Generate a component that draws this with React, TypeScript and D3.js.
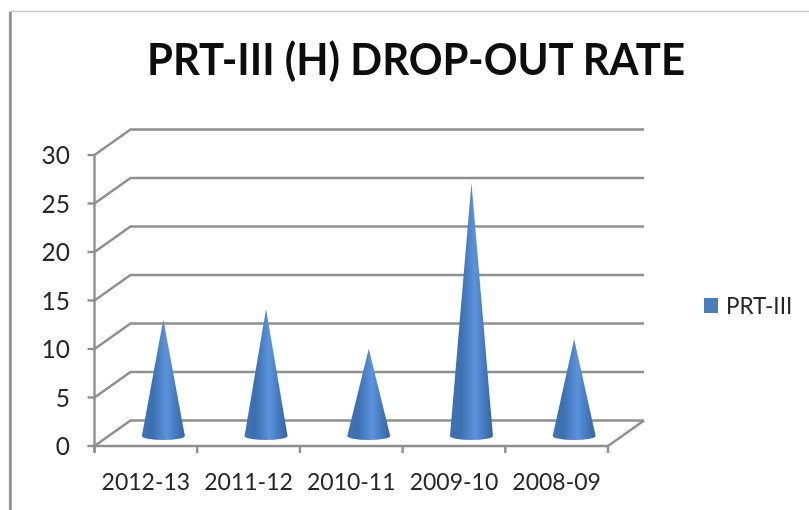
import React from "react";
import * as d3 from "d3";

const categories = ["2012-13", "2011-12", "2010-11", "2009-10", "2008-09"];
const values = [12, 13.1, 9, 26.1, 10];
const yTicks = [0, 5, 10, 15, 20, 25, 30];
const seriesName = "PRT-III";
const titleText = "PRT-III (H) DROP-OUT RATE";

const W = 809, H = 510;
const frontLeft = 94.5, frontRight = 608, frontBottom = 446, frontTop = 155;
const depthX = 36, depthY = 25.5;
const GRID = "#8f8f8f";
const TEXT = "#262626";
const FONT = "Lato, 'Open Sans', sans-serif";

export default function App() {
  const x = d3.scaleBand<string>().domain(categories).range([frontLeft, frontRight]);
  const y = d3.scaleLinear().domain([0, 30]).range([frontBottom, frontTop]);
  const baseShiftX = 17.5, baseShiftY = -10;
  const rx = 21.5, ry = 4;
  const ticksX = [...categories.map((c) => x(c) as number), frontRight];
  const gridPath = d3.path();
  yTicks.forEach((t) => {
    const py = y(t);
    gridPath.moveTo(frontLeft, py);
    gridPath.lineTo(frontLeft + depthX, py - depthY);
    gridPath.lineTo(frontRight + depthX, py - depthY);
  });
  return (
    <svg width={W} height={H} style={{ position: "absolute", left: 0, top: 0, background: "#fff" }}>
      <defs>
        <filter id="soft" x="-5%" y="-5%" width="110%" height="110%">
          <feGaussianBlur stdDeviation="0.5" />
        </filter>
        <linearGradient id="cone" x1="0" x2="1" y1="0" y2="0">
          <stop offset="0" stopColor="#3f74b8" />
          <stop offset="0.25" stopColor="#3c6fb0" />
          <stop offset="0.58" stopColor="#5b93dc" />
          <stop offset="0.8" stopColor="#4379bf" />
          <stop offset="1" stopColor="#34649f" />
        </linearGradient>
      </defs>
      <g filter="url(#soft)">
        <path d="M9.5 510V11.5H809" fill="none" stroke="#c9c9c9" strokeWidth={1.5} />
        <line x1={10.5} x2={10.5} y1={12} y2={510} stroke="#8a8a8a" strokeWidth={2.5} />
        <path d={gridPath.toString()} fill="none" stroke={GRID} strokeWidth={2.4} />
        <line x1={frontLeft} x2={frontLeft} y1={frontTop} y2={frontBottom + 7} stroke={GRID} strokeWidth={2.4} />
        <line x1={frontLeft} x2={frontRight} y1={frontBottom} y2={frontBottom} stroke={GRID} strokeWidth={2.4} />
        <line x1={frontRight} x2={frontRight + depthX} y1={frontBottom} y2={frontBottom - depthY} stroke={GRID} strokeWidth={2.4} />
        {yTicks.map((t) => (
          <line key={t} x1={frontLeft - 7} x2={frontLeft} y1={y(t)} y2={y(t)} stroke={GRID} strokeWidth={2.4} />
        ))}
        {ticksX.map((t) => (
          <line key={t} x1={t} x2={t} y1={frontBottom} y2={frontBottom + 7} stroke={GRID} strokeWidth={2.4} />
        ))}
        {categories.map((c, i) => {
          const cx = (x(c) as number) + x.bandwidth() / 2 + baseShiftX;
          const by = frontBottom + baseShiftY;
          const tip = y(values[i]) + baseShiftY;
          return (
            <path
              key={c}
              d={`M${cx} ${tip}L${cx + rx} ${by}A${rx} ${ry} 0 0 1 ${cx - rx} ${by}Z`}
              fill="url(#cone)"
            />
          );
        })}
        <text x={416} y={75} textAnchor="middle" fontFamily={FONT} fontWeight={700} fontSize={43} fill="#0a0a0a" textLength={538} lengthAdjust="spacingAndGlyphs">
          {titleText}
        </text>
        {yTicks.map((t) => (
          <text key={t} x={70} y={y(t) + 9} textAnchor="end" fontFamily={FONT} fontSize={24.5} fill={TEXT}>
            {t}
          </text>
        ))}
        {categories.map((c) => (
          <text key={c} x={(x(c) as number) + x.bandwidth() / 2} y={490} textAnchor="middle" fontFamily={FONT} fontSize={23} fill={TEXT}>
            {c}
          </text>
        ))}
        <rect x={704} y={298} width={14} height={15} fill="#4a7ebb" />
        <text x={726} y={314} fontFamily={FONT} fontSize={22.5} fill={TEXT}>
          {seriesName}
        </text>
      </g>
    </svg>
  );
}
